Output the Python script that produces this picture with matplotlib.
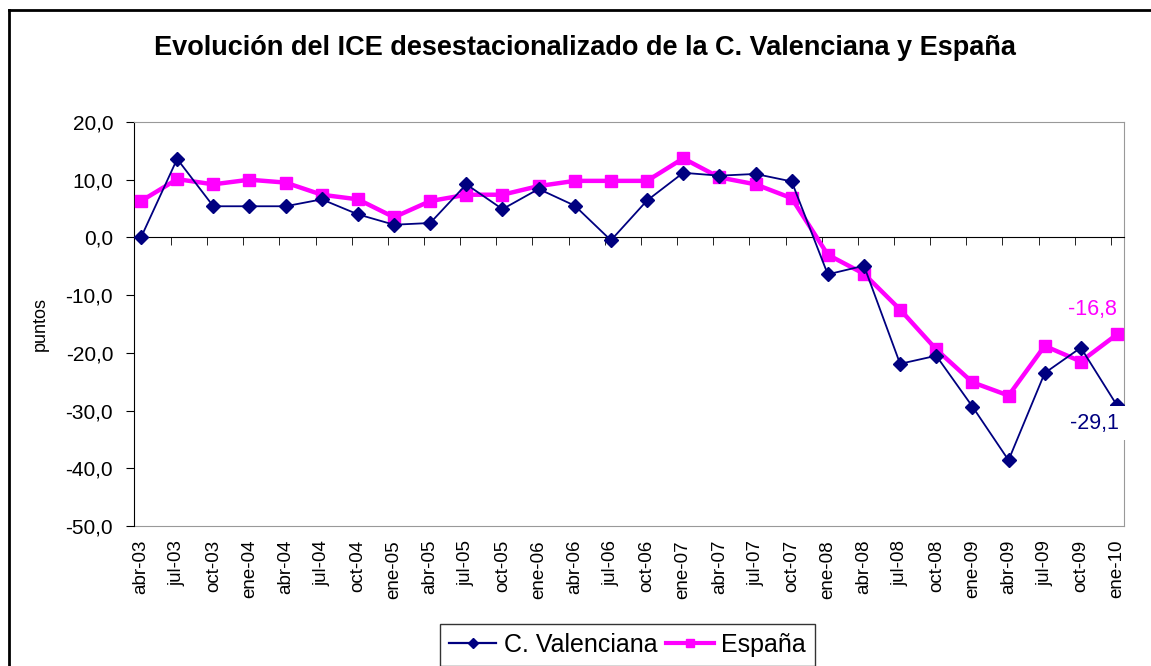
import matplotlib
matplotlib.use("Agg")
import matplotlib.pyplot as plt
from matplotlib.lines import Line2D
import numpy as np

categories = ["abr-03", "jul-03", "oct-03", "ene-04", "abr-04", "jul-04", "oct-04",
              "ene-05", "abr-05", "jul-05", "oct-05", "ene-06", "abr-06", "jul-06",
              "oct-06", "ene-07", "abr-07", "jul-07", "oct-07", "ene-08", "abr-08",
              "jul-08", "oct-08", "ene-09", "abr-09", "jul-09", "oct-09", "ene-10"]
valenciana = [0.0, 13.6, 5.4, 5.4, 5.4, 6.6, 4.0, 2.2, 2.5, 9.2, 4.9, 8.4, 5.5, -0.5,
              6.4, 11.2, 10.7, 11.0, 9.7, -6.4, -4.9, -21.9, -20.5, -29.3, -38.6,
              -23.5, -19.1, -29.1]
espana = [6.3, 10.1, 9.2, 10.0, 9.5, 7.4, 6.6, 3.5, 6.3, 7.4, 7.4, 8.9, 9.8, 9.8,
          9.8, 13.7, 10.4, 9.2, 6.8, -3.0, -6.3, -12.5, -19.4, -25.1, -27.4, -18.8,
          -21.5, -16.8]
yticks = [20, 10, 0, -10, -20, -30, -40, -50]
title = "Evolución del ICE desestacionalizado de la C. Valenciana y España"

plt.rcParams['font.family'] = ['Liberation Sans', 'DejaVu Sans']

NAVY = "#000080"
MAG = "#FF00FF"

W, H = 1151, 666
fig = plt.figure(figsize=(W / 100, H / 100), dpi=100)
ax = fig.add_axes([134 / W, 1 - 526 / H, (1124 - 134) / W, (526 - 122) / H])

x = np.arange(len(categories))
ax.plot(x, espana, color=MAG, lw=3.2, marker="s", ms=8, mec=MAG, mfc=MAG, zorder=3)
ax.plot(x, valenciana, color=NAVY, lw=1.3, marker="D", ms=7.5, mec=NAVY, mfc=NAVY, zorder=4)

ax.set_xlim(-0.194, len(categories) - 1 + 0.194)
ax.set_ylim(-50, 20)

gray = "#999999"
ax.spines['top'].set_color(gray)
ax.spines['right'].set_color(gray)
ax.spines['left'].set_color("black")
ax.spines['bottom'].set_position(('data', 0))
ax.spines['bottom'].set_color("black")

ax.set_xticks(x)
ax.set_xticklabels([])
ax.tick_params(axis='x', which='major', length=0)
ax.set_xticks(x[1:] - 0.17, minor=True)
ax.tick_params(axis='x', which='minor', length=6, direction='out', color='black')

ax.set_yticks(yticks)
ax.set_yticklabels([f"{v:.1f}".replace(".", ",") for v in yticks], fontsize=15)
ax.tick_params(axis='y', length=6, direction='out', pad=9)

sec = ax.secondary_xaxis(0)
sec.set_xticks(x)
sec.set_xticklabels(categories, rotation=90, fontsize=13.5, va='top')
sec.tick_params(length=0, pad=10)
sec.spines['bottom'].set_color(gray)

ax.set_ylabel("puntos", fontsize=13, labelpad=12)

ax.annotate("-16,8", xy=(x[-1], espana[-1]), xytext=(0, 18), textcoords='offset points',
            ha='right', va='center', color=MAG, fontsize=15.5)
ax.annotate("-29,1", xy=(x[-1], valenciana[-1]), xytext=(1.5, -13), textcoords='offset points',
            ha='right', va='center', color=NAVY, fontsize=15.5,
            bbox=dict(boxstyle='square,pad=0.3', fc='white', ec='none'), zorder=6,
            annotation_clip=False)

fig.text(585 / W, 1 - 48 / H, title, ha='center', va='center', fontsize=19.5,
         fontweight='bold')

h1 = Line2D([], [], color=NAVY, lw=1.6, marker="D", ms=5, mfc=NAVY, mec=NAVY)
h2 = Line2D([], [], color=MAG, lw=3.0, marker="s", ms=5.5, mfc=MAG, mec=MAG)
leg = fig.legend([h1, h2], ["C. Valenciana", "España"], loc='upper center',
                 bbox_to_anchor=(627.5 / W, 1 - 624 / H),
                 ncol=2, frameon=True, fontsize=18, handlelength=1.9, handletextpad=0.3,
                 columnspacing=0.35, borderpad=0.35, borderaxespad=0, fancybox=False)
leg.get_frame().set_edgecolor("black")
leg.get_frame().set_linewidth(1.0)

# outer chart border
fig.add_artist(Line2D([8.5 / W, 8.5 / W], [0, 1 - 10 / H], color='black', lw=2,
                      transform=fig.transFigure))
fig.add_artist(Line2D([8.5 / W, 1], [1 - 10 / H, 1 - 10 / H], color='black', lw=2,
                      transform=fig.transFigure))

fig.savefig("out.png", dpi=100)
